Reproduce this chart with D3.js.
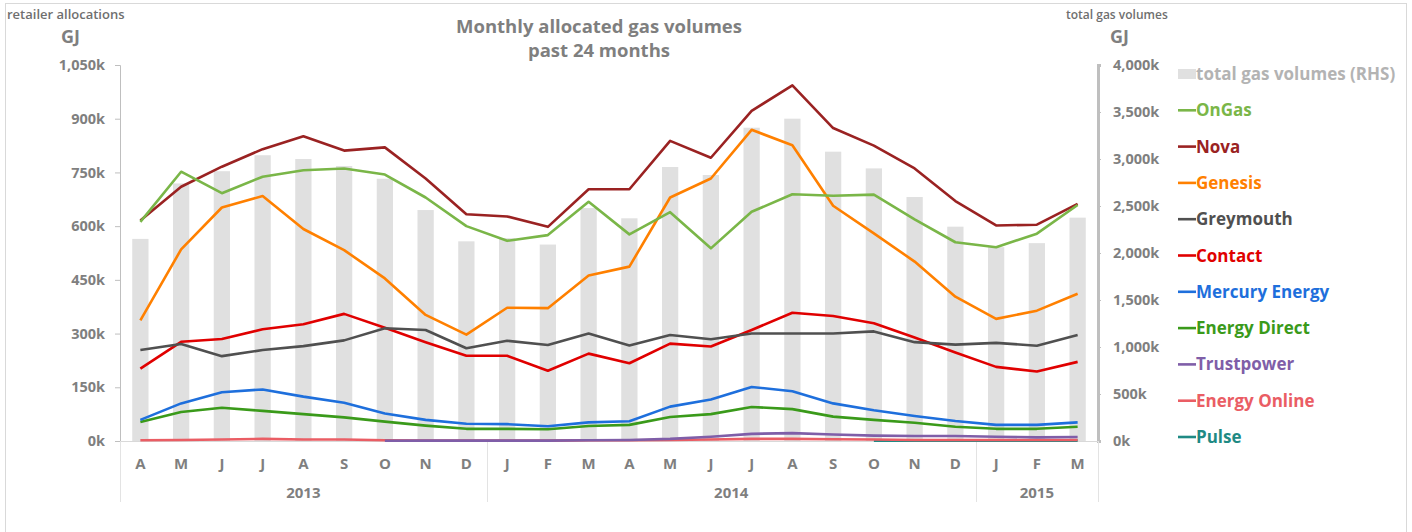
<!DOCTYPE html>
<html>
<head>
<meta charset="utf-8">
<script src="https://cdn.jsdelivr.net/npm/d3@7"></script>
<style>
  html, body { margin: 0; padding: 0; background: #fff; }
  svg { display: block; font-family: "Open Sans", "Noto Sans", sans-serif; }
</style>
</head>
<body>
<svg id="chart" width="1412" height="532"></svg>
<script>
const months = ["A","M","J","J","A","S","O","N","D","J","F","M","A","M","J","J","A","S","O","N","D","J","F","M"];
const years = [
  {label: "2013", start: 0, end: 9},
  {label: "2014", start: 9, end: 21},
  {label: "2015", start: 21, end: 24}
];
const leftTicks = [0, 150, 300, 450, 600, 750, 900, 1050];
const rightTicks = [0, 500, 1000, 1500, 2000, 2500, 3000, 3500, 4000];

const totalGas = [2150, 2740, 2870, 3040, 3000, 2925, 2790, 2457, 2124, 2158, 2090, 2478, 2369, 2915, 2830, 3333, 3429, 3078, 2900, 2596, 2280, 2062, 2105, 2376];

const onGas = [612, 752, 692, 738, 756, 761, 744, 680, 600, 559, 575, 668, 577, 639, 538, 640, 689, 685, 688, 619, 555, 541, 579, 659];
const nova = [616, 710, 766, 815, 851, 811, 820, 733, 633, 627, 598, 703, 703, 838, 791, 922, 993, 874, 825, 761, 670, 602, 604, 662];
const genesis = [337, 535, 652, 684, 592, 533, 454, 352, 297, 372, 371, 462, 487, 680, 733, 869, 826, 657, 580, 501, 403, 341, 364, 411];
const greymouth = [254, 271, 237, 254, 265, 281, 315, 310, 259, 280, 268, 300, 267, 296, 284, 300, 300, 300, 306, 276, 269, 274, 266, 296];
const contact = [202, 277, 285, 312, 326, 355, 316, 276, 238, 238, 196, 244, 217, 272, 264, 310, 358, 349, 329, 289, 247, 207, 194, 221];
const mercury = [59, 105, 136, 144, 124, 107, 77, 59, 48, 47, 41, 52, 55, 96, 116, 151, 139, 105, 86, 70, 56, 45, 45, 52];
const energyDirect = [53, 81, 93, 84, 75, 66, 54, 43, 34, 34, 33, 42, 45, 67, 75, 95, 89, 68, 59, 51, 40, 34, 34, 40];
const trustpower = [null, null, null, null, null, null, 0.5, 1, 1, 1, 1, 2, 3, 6, 12, 20, 22, 18, 15, 14, 14, 12, 10, 11];
const energyOnline = [2, 3, 4, 6, 4, 4, 2, 1, 1, 1, 1, 2, 2, 3, 4, 6, 6, 5, 4, 3, 3, 3, 3, 3];
const pulse = [null, null, null, null, null, null, null, null, null, null, null, null, null, null, null, null, null, null, 1, 1, 1, 1, 1, 1];

const seriesNames = ["OnGas", "Nova", "Genesis", "Greymouth", "Contact", "Mercury Energy", "Energy Direct", "Trustpower", "Energy Online", "Pulse"];
const seriesValues = [onGas, nova, genesis, greymouth, contact, mercury, energyDirect, trustpower, energyOnline, pulse];
const seriesColors = ["#7ab648", "#9a2222", "#ff8000", "#505050", "#e00000", "#1e6fdc", "#3a9a1a", "#7f5ea8", "#ea5d64", "#1f8a84"];

const svg = d3.select("#chart");
const L = 120, R = 1098, T = 65, B = 441;

// outer border
svg.append("rect").attr("x", 5.5).attr("y", 3.5).attr("width", 1401).attr("height", 540)
  .attr("fill", "none").attr("stroke", "#d9d9d9").attr("stroke-width", 1);

const xc = i => L + (R - L) / months.length * (i + 0.5);
const yL = d3.scaleLinear().domain([0, 1050]).range([B, T]);
const yR = d3.scaleLinear().domain([0, 4000]).range([B, T]);

// bars
const bw = (R - L) / months.length * 0.4;
svg.append("g").selectAll("rect").data(totalGas).join("rect")
  .attr("x", (d, i) => xc(i) - bw / 2)
  .attr("width", bw)
  .attr("y", d => yR(d))
  .attr("height", d => B - yR(d))
  .attr("fill", "#e0e0e0");

// left axis
const gL = svg.append("g").attr("transform", `translate(${L},0)`)
  .call(d3.axisLeft(yL).tickValues(leftTicks).tickSize(5).tickPadding(10)
    .tickFormat(d => d3.format(",")(d) + "k"));
gL.select(".domain").attr("stroke", "#bfbfbf");
gL.selectAll(".tick line").attr("stroke", "#bfbfbf");
gL.selectAll("text").attr("fill", "#7f7f7f").style("font-size", "14.5px").style("font-weight", "700")
  .attr("font-family", "Open Sans, sans-serif");

// right axis
const gR = svg.append("g").attr("transform", `translate(${R},0)`)
  .call(d3.axisRight(yR).tickValues(rightTicks).tickSize(3).tickPadding(12)
    .tickFormat(d => d3.format(",")(d) + "k"));
gR.select(".domain").attr("stroke", "#bfbfbf").attr("stroke-width", 3);
gR.selectAll(".tick line").attr("stroke", "#bfbfbf");
gR.selectAll("text").attr("fill", "#7f7f7f").style("font-size", "14.5px").style("font-weight", "700")
  .attr("font-family", "Open Sans, sans-serif");

// x baseline
svg.append("line").attr("x1", L).attr("x2", R).attr("y1", B + 0.5).attr("y2", B + 0.5)
  .attr("stroke", "#d9d9d9");

// year separators
const seps = [0, 9, 21, 24];
svg.append("g").selectAll("line").data(seps).join("line")
  .attr("x1", d => Math.round(L + (R - L) / months.length * d) + 0.5)
  .attr("x2", d => Math.round(L + (R - L) / months.length * d) + 0.5)
  .attr("y1", B).attr("y2", 502)
  .attr("stroke", "#e3e3e3");

// month labels
svg.append("g").selectAll("text").data(months).join("text")
  .attr("x", (d, i) => xc(i)).attr("y", 469)
  .attr("text-anchor", "middle").attr("fill", "#7f7f7f")
  .style("font-size", "15px").style("font-weight", "700").text(d => d);

// year labels
svg.append("g").selectAll("text").data(years).join("text")
  .attr("x", d => L + (R - L) / months.length * (d.start + d.end) / 2).attr("y", 498)
  .attr("text-anchor", "middle").attr("fill", "#7f7f7f")
  .style("font-size", "15px").style("font-weight", "700").text(d => d.label);

// lines
const line = d3.line().defined(d => d != null).x((d, i) => xc(i)).y(d => yL(d));
const order = d3.range(seriesNames.length).reverse();
svg.append("g").selectAll("path").data(order).join("path")
  .attr("d", k => line(seriesValues[k]))
  .attr("fill", "none")
  .attr("stroke", k => seriesColors[k])
  .attr("stroke-width", 2.6)
  .attr("stroke-linejoin", "round");

// title
svg.append("text").attr("x", 599).attr("y", 33).attr("text-anchor", "middle")
  .attr("fill", "#7f7f7f").style("font-size", "18.5px").style("font-weight", "700")
  .text("Monthly allocated gas volumes");
svg.append("text").attr("x", 599).attr("y", 57).attr("text-anchor", "middle")
  .attr("fill", "#7f7f7f").style("font-size", "18.5px").style("font-weight", "700")
  .text("past 24 months");

// axis titles
svg.append("text").attr("x", 7).attr("y", 19).attr("fill", "#6f6f6f")
  .style("font-size", "13px").style("font-weight", "600").text("retailer allocations");
svg.append("text").attr("x", 61).attr("y", 43).attr("fill", "#7f7f7f")
  .style("font-size", "18px").style("font-weight", "700").text("GJ");
svg.append("text").attr("x", 1066).attr("y", 19).attr("fill", "#6f6f6f")
  .style("font-size", "12px").style("font-weight", "600").text("total gas volumes");
svg.append("text").attr("x", 1110).attr("y", 43).attr("fill", "#7f7f7f")
  .style("font-size", "18px").style("font-weight", "700").text("GJ");

// legend
const legY0 = 74, legDy = 36.3, legX = 1178;
const lg = svg.append("g");
lg.append("rect").attr("x", legX).attr("y", legY0 - 5).attr("width", 18).attr("height", 10).attr("fill", "#e0e0e0");
lg.append("text").attr("x", legX + 18).attr("y", legY0 + 6).attr("fill", "#b3b3b3")
  .style("font-size", "17px").style("font-weight", "700").text("total gas volumes (RHS)");
seriesNames.forEach((name, k) => {
  const yy = legY0 + legDy * (k + 1);
  lg.append("line").attr("x1", legX).attr("x2", legX + 18).attr("y1", yy).attr("y2", yy)
    .attr("stroke", seriesColors[k]).attr("stroke-width", 2.6);
  lg.append("text").attr("x", legX + 18).attr("y", yy + 6).attr("fill", seriesColors[k])
    .style("font-size", "17px").style("font-weight", "700").text(name);
});
</script>
</body>
</html>
